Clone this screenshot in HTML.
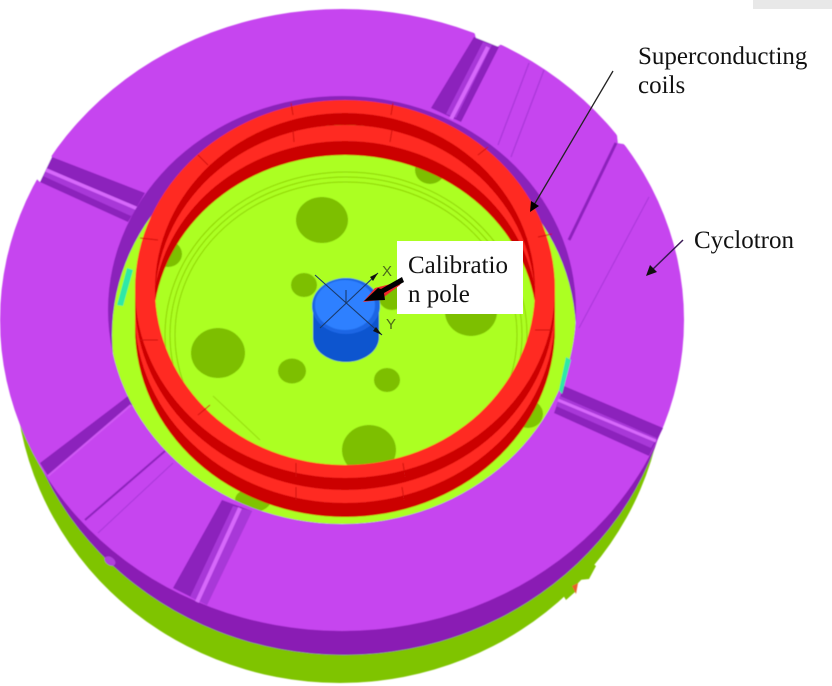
<!DOCTYPE html>
<html><head><meta charset="utf-8"><style>
html,body{margin:0;padding:0;background:#fff}
svg{display:block}
text{font-family:"Liberation Serif",serif;fill:#111}
</style></head><body>
<svg width="832" height="686" viewBox="0 0 832 686" xmlns="http://www.w3.org/2000/svg">
<defs>
<clipPath id="hole"><ellipse cx="342" cy="310" rx="234" ry="214"/></clipPath>
<filter id="b" x="-5%" y="-5%" width="110%" height="110%"><feGaussianBlur stdDeviation="0.5"/></filter>
</defs>
<rect width="832" height="686" fill="#fff"/>
<rect x="753" y="0" width="79" height="9" fill="#e8e8e8"/>
<g filter="url(#b)">
<ellipse cx="340" cy="370" rx="325" ry="313" fill="#7fc400"/>
<polygon points="588,560 596,566 589,579 579,580 575,592 566,600 560,590" fill="#7fc400"/>
<polygon points="572,586 578,583 576,594" fill="#e8602a"/>
<ellipse cx="344" cy="343" rx="330" ry="312" fill="#8a1fb4"/>
<ellipse cx="342" cy="320" rx="342" ry="311" fill="#c644ef"/>

<!-- edge cuts -->
<polygon points="30,172 40,182 52,157 44,152" fill="#fff"/>
<polygon points="474,30 476,38 497,47 504,42 490,28" fill="#fff"/>
<polygon points="625,130 617,134 618,143 630,145" fill="#fff"/>

<!-- slots -->
<polygon points="474,37 499,47 461,122 431,108" fill="#8c22bc"/>
<polygon points="483,42 492,45 456,118 446,114" fill="#a838d8"/>
<line x1="488" y1="47" x2="451" y2="119" stroke="#d768fb" stroke-width="4"/>

<polygon points="52,157 40,182 128,222 145,193" fill="#8c22bc"/>
<polygon points="47,168 43,176 131,216 137,208" fill="#a838d8"/>
<line x1="46" y1="170" x2="138" y2="209" stroke="#d768fb" stroke-width="3.5"/>

<polygon points="564,386 554,413 649,456 663,428" fill="#8c22bc"/>
<polygon points="560,396 556,406 651,448 657,438" fill="#a838d8"/>
<line x1="558" y1="400" x2="656" y2="441" stroke="#d768fb" stroke-width="3"/>

<polygon points="222,500 252,511 207,605 173,588" fill="#8c22bc"/>
<polygon points="233,506 252,511 207,605 190,597" fill="#a838d8"/>
<line x1="240" y1="508" x2="197" y2="602" stroke="#d768fb" stroke-width="4"/>

<!-- thin grooves -->
<polygon points="128,396 133,404 48,476 40,463" fill="#8c22bc"/>
<line x1="131" y1="405" x2="48" y2="476" stroke="#d058f5" stroke-width="2"/>
<line x1="165" y1="451" x2="85" y2="520" stroke="#8c22bc" stroke-width="2"/>
<line x1="173" y1="463" x2="98" y2="533" stroke="#a838d8" stroke-width="1"/>
<line x1="529" y1="63" x2="498" y2="145" stroke="#a838d8" stroke-width="1.2"/>
<line x1="544" y1="70" x2="511" y2="157" stroke="#a838d8" stroke-width="1.2"/>
<line x1="616" y1="143" x2="569" y2="240" stroke="#8c22bc" stroke-width="3"/>
<line x1="649" y1="197" x2="579" y2="328" stroke="#a838d8" stroke-width="1"/>
<ellipse cx="110" cy="561" rx="6" ry="4" fill="#b040dc" transform="rotate(35 110 561)"/>

<!-- centre opening -->
<ellipse cx="342" cy="310" rx="234" ry="214" fill="#8a20ba"/>
<g clip-path="url(#hole)">
<ellipse cx="344" cy="335" rx="232" ry="214" fill="#acff24"/>
<ellipse cx="253" cy="500" rx="18" ry="12" fill="#7fc400"/>
<ellipse cx="528" cy="414" rx="15" ry="14" fill="#7fc400"/>
</g>
<polygon points="127,268 133,270 123,306 117,305" fill="#2fe8a8"/>
<polygon points="566,357 571,360 562,394 559,390" fill="#2fe8a8"/>

<!-- inner holes -->
<g fill="#7dbf00">
<ellipse cx="322" cy="220" rx="26" ry="23"/>
<ellipse cx="304" cy="285" rx="13" ry="12"/>
<ellipse cx="218" cy="353" rx="27" ry="25"/>
<ellipse cx="292" cy="371" rx="14" ry="12.5"/>
<ellipse cx="387" cy="380" rx="13" ry="12"/>
<ellipse cx="369" cy="450" rx="27" ry="25"/>
<ellipse cx="471" cy="312" rx="26" ry="24"/>
<ellipse cx="430" cy="170" rx="15" ry="14"/>
<ellipse cx="168" cy="254" rx="14" ry="13"/>
<ellipse cx="392" cy="298" rx="13" ry="12"/>
</g>
<g fill="none" stroke="#8fd400" stroke-width="1">
<ellipse cx="346" cy="335" rx="181" ry="163"/>
<ellipse cx="346" cy="335" rx="176" ry="158"/>
<ellipse cx="346" cy="335" rx="171" ry="153"/>
<polyline points="213,396 260,440" stroke="#96dc10"/>
</g>

<!-- coils -->
<g fill-rule="evenodd">
<path fill="#cc0000" d="M135 328a210 189 0 1 0 420 0a210 189 0 1 0-420 0zM153 328a192 173 0 1 0 384 0a192 173 0 1 0-384 0z"/>
<path fill="#ff2a24" d="M135 314a210 189 0 1 0 420 0a210 189 0 1 0-420 0zM153 314a192 173 0 1 0 384 0a192 173 0 1 0-384 0z"/>
<path fill="#cc0000" d="M135 301a210 189 0 1 0 420 0a210 189 0 1 0-420 0zM155 301a190 176 0 1 0 380 0a190 176 0 1 0-380 0z"/>
<path fill="#ff2a24" d="M135 289a210 189 0 1 0 420 0a210 189 0 1 0-420 0zM155 289a190 176 0 1 0 380 0a190 176 0 1 0-380 0z"/>
</g>
<g stroke="#cf0a0a" stroke-width="1" fill="none">
<line x1="291" y1="103" x2="293" y2="115"/><line x1="393" y1="103" x2="391" y2="115"/>
<line x1="293" y1="130" x2="294" y2="142"/><line x1="392" y1="130" x2="390" y2="142"/>
<line x1="296" y1="463" x2="296" y2="477"/><line x1="296" y1="487" x2="296" y2="500"/>
<line x1="403" y1="463" x2="405" y2="477"/><line x1="402" y1="487" x2="404" y2="500"/>
<line x1="198" y1="155" x2="208" y2="165"/><line x1="140" y1="238" x2="158" y2="240"/>
<line x1="198" y1="415" x2="210" y2="405"/><line x1="538" y1="237" x2="552" y2="234"/>
<line x1="535" y1="330" x2="553" y2="330"/><line x1="140" y1="340" x2="158" y2="340"/>
<line x1="478" y1="155" x2="488" y2="147"/>
</g>

<!-- pole -->
<path d="M313 304v33a33 25 0 0 0 66 0v-33z" fill="#0f55cf"/>
<ellipse cx="346" cy="306" rx="34" ry="28" fill="#1a66e4"/>
<ellipse cx="345" cy="305" rx="30" ry="25" fill="#2e80ff"/>
</g>

<!-- axes -->
<g stroke="#1a3a6a" stroke-width="1.1" fill="none">
<line x1="315" y1="275" x2="382" y2="335"/>
<line x1="320" y1="328" x2="378" y2="273"/>
<line x1="346" y1="290" x2="346" y2="304"/>
</g>
<polygon points="378,273 370,277 373,281" fill="#111"/>
<polygon points="382,335 376,327 373,331" fill="#111"/>
<text x="382" y="276" style="font-family:'Liberation Sans',sans-serif;font-size:15px;fill:#4c6b1a">X</text>
<text x="386" y="329" style="font-family:'Liberation Sans',sans-serif;font-size:15px;fill:#4c6b1a">Y</text>

<!-- label box -->
<rect x="397" y="241" width="126" height="73" fill="#fff"/>
<text x="408" y="273" font-size="25">Calibratio</text>
<text x="408" y="302" font-size="25">n pole</text>

<!-- black pointer -->
<polygon points="363,302 375,288 402,281 400,285 380,300" fill="#f0282a"/>
<polygon points="404,282 384,293 385,300 364,301 378,288 381,289 402,277" fill="#000"/>

<!-- leaders -->
<line x1="613" y1="71" x2="534" y2="205" stroke="#222" stroke-width="1.3"/>
<polygon points="530,212 531,201 539,206" fill="#000"/>
<line x1="683" y1="240" x2="652" y2="270" stroke="#3a1a55" stroke-width="1.5"/>
<polygon points="646,276 650,265 657,272" fill="#111"/>

<text x="638" y="64" font-size="25">Superconducting</text>
<text x="638" y="93" font-size="25">coils</text>
<text x="694" y="248" font-size="25">Cyclotron</text>
</svg>
</body></html>
